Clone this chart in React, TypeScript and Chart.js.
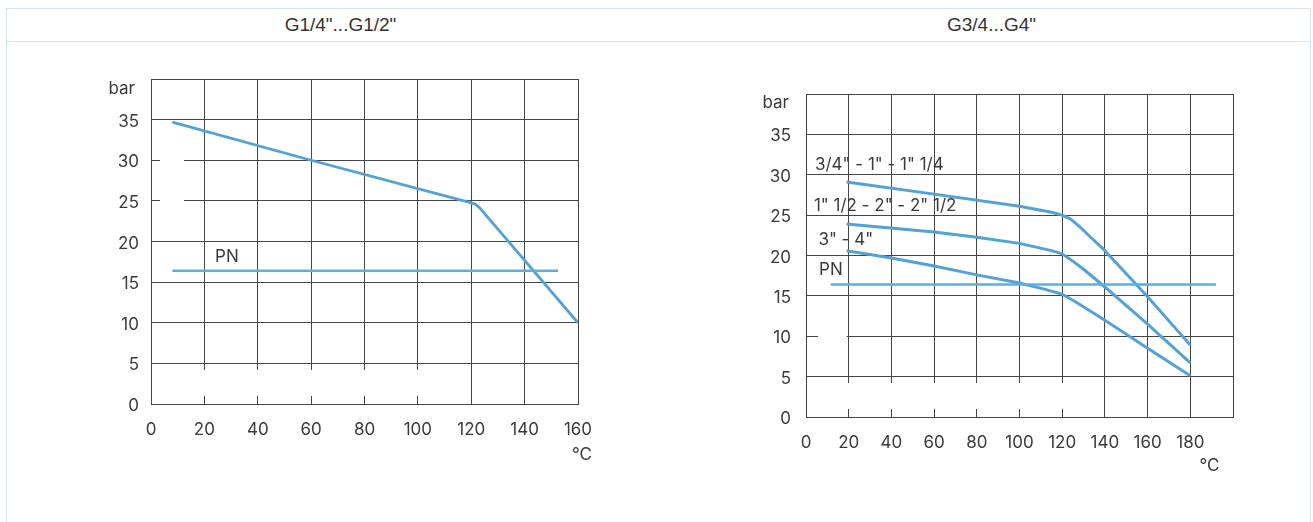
import React, { useEffect, useRef } from 'react';
import { Chart, registerables } from 'chart.js';

Chart.register(...registerables);

// ---------- data ----------
const leftTitle = 'G1/4"...G1/2"';
const rightTitle = 'G3/4...G4"';

const leftXTickLabels = ['0', '20', '40', '60', '80', '100', '120', '140', '160'];
const leftYTickLabels = ['0', '5', '10', '15', '20', '25', '30', '35', ''];
const rightXTickLabels = ['0', '20', '40', '60', '80', '100', '120', '140', '160', '180', ''];
const rightYTickLabels = ['0', '5', '10', '15', '20', '25', '30', '35', ''];

const yUnit = 'bar';
const xUnit = '°C';

// left chart (G1/4"...G1/2")
const leftCurveX = [8, 60, 119, 121.5, 123, 160];
const leftCurveY = [34.7, 30, 24.85, 24.6, 24.2, 10];
const leftPnX = [8, 152.5];
const leftPnY = [16.4, 16.4];
const leftLabelText = ['PN'];
const leftLabelX = [24];
const leftLabelY = [18.1];

// right chart (G3/4...G4")
const rightS1X = [19, 60, 100, 115, 120, 124, 128, 132, 140, 160, 180];
const rightS1Y = [29.1, 27.6, 26.1, 25.35, 25.0, 24.5, 23.6, 22.6, 20.6, 14.9, 8.9];
const rightS2X = [19, 60, 80, 100, 115, 120, 125, 130, 140, 160, 180];
const rightS2Y = [23.9, 22.9, 22.25, 21.5, 20.6, 20.2, 19.3, 18.3, 16.1, 11.5, 6.7];
const rightS3X = [19, 40, 60, 80, 100, 112, 120, 126, 140, 160, 180];
const rightS3Y = [20.6, 19.7, 18.7, 17.6, 16.6, 15.8, 15.2, 14.3, 11.97, 8.5, 5.1];
const rightPnX = [11.6, 192];
const rightPnY = [16.4, 16.4];
const rightLabelText = ['3/4" - 1" - 1" 1/4', '1" 1/2 - 2" - 2" 1/2', '3" - 4"', 'PN'];
const rightLabelX = [4.2, 3.7, 5.8, 6.1];
const rightLabelY = [31.2, 26.2, 21.9, 18.2];

// small erased pieces of the printed grid (value space)
const leftHGapY = [30, 25];
const leftHGapFrom = 3.4;
const leftHGapTo = 12.4;
const leftVGapX = [20, 40, 60, 80, 100];
const rightHGapY = [10];
const rightHGapFrom = 5.6;
const rightHGapTo = 19;
const rightVGapX = [20, 40, 60, 80, 100, 120];
const vGapFrom = 1.0;
const vGapTo = 4.2;

// ---------- styles ----------
const CURVE = '#52a2d8';
const PN_COLOR = '#5cade0';
const GRID = '#444444';
const TEXT = '#3a3a3a';
const FONT = 'Inter, "Liberation Sans", Arial, sans-serif';
const BORDER = '#d7e2ec';

const toPts = (xs: number[], ys: number[]) => xs.map((x, i) => ({ x, y: ys[i] }));

const textPlugin = {
  id: 'chartTexts',
  beforeDatasetsDraw(chart: any, _a: any, opts: any) {
    const { ctx, scales } = chart;
    const xs = scales.x;
    const ys = scales.y;
    ctx.save();
    ctx.fillStyle = '#ffffff';
    (opts.hGaps || []).forEach((g: any) => {
      const y = ys.getPixelForValue(g.y);
      const x0 = xs.getPixelForValue(g.from);
      const x1 = xs.getPixelForValue(g.to);
      ctx.fillRect(x0, y - 1.5, x1 - x0, 3);
    });
    (opts.vGaps || []).forEach((g: any) => {
      const x = xs.getPixelForValue(g.x);
      const y0 = ys.getPixelForValue(g.to);
      const y1 = ys.getPixelForValue(g.from);
      ctx.fillRect(x - 1.5, y0, 3, y1 - y0);
    });
    ctx.restore();
  },
  afterDatasetsDraw(chart: any, _a: any, opts: any) {
    const { ctx, scales, chartArea } = chart;
    const xs = scales.x;
    const ys = scales.y;
    ctx.save();
    ctx.fillStyle = TEXT;
    ctx.font = `17px ${FONT}`;
    ctx.textBaseline = 'middle';
    ctx.textAlign = 'left';
    (opts.labels || []).forEach((l: any) => {
      ctx.fillText(l.text, xs.getPixelForValue(l.x), ys.getPixelForValue(l.y));
    });
    ctx.textAlign = 'right';
    ctx.fillText(yUnit, chartArea.left - opts.yUnitGap, chartArea.top + opts.yUnitDrop);
    ctx.textAlign = 'center';
    ctx.fillText(xUnit, xs.getPixelForValue(opts.xUnitAt), chartArea.bottom + opts.xUnitDrop);
    ctx.restore();
  },
};

function makeConfig(p: any) {
  return {
    type: 'line',
    data: {
      datasets: p.datasets.map((d: any) => ({
        data: d.data,
        borderColor: d.color,
        borderWidth: d.width,
        pointRadius: 0,
        fill: false,
        tension: 0,
        borderCapStyle: 'butt',
        borderJoinStyle: 'round',
      })),
    },
    options: {
      animation: false,
      responsive: false,
      devicePixelRatio: 1,
      events: [],
      layout: { padding: p.padding },
      plugins: {
        legend: { display: false },
        tooltip: { enabled: false },
        chartTexts: p.texts,
      },
      scales: {
        x: {
          type: 'linear',
          min: 0,
          max: p.xMax,
          afterFit: (s: any) => { s.height = 60; },
          grid: { color: GRID, lineWidth: 1, drawTicks: false },
          border: { display: true, color: GRID, width: 1 },
          ticks: {
            stepSize: 20,
            padding: p.xPad,
            color: TEXT,
            font: { family: FONT, size: 17 },
            maxRotation: 0,
            autoSkip: false,
            callback: (_v: any, i: number) => p.xLabels[i],
          },
        },
        y: {
          type: 'linear',
          min: 0,
          max: 40,
          afterFit: (s: any) => { s.width = p.yWidth; },
          grid: { color: GRID, lineWidth: 1, drawTicks: false },
          border: { display: true, color: GRID, width: 1 },
          ticks: {
            stepSize: 5,
            padding: p.yPad,
            labelOffset: 2,
            color: TEXT,
            font: { family: FONT, size: 17 },
            autoSkip: false,
            callback: (_v: any, i: number) => p.yLabels[i],
          },
        },
      },
    },
    plugins: [textPlugin],
  };
}

function ChartCanvas({ config, width, height, left }: any) {
  const ref = useRef<HTMLCanvasElement | null>(null);
  useEffect(() => {
    if (!ref.current) return;
    const chart = new Chart(ref.current, config as any);
    return () => chart.destroy();
  }, []);
  return (
    <canvas
      ref={ref}
      width={width}
      height={height}
      style={{ position: 'absolute', left, top: 0, width, height }}
    />
  );
}

const leftConfig = makeConfig({
  xMax: 160,
  xLabels: leftXTickLabels,
  yLabels: leftYTickLabels,
  yWidth: 151,
  yPad: 12,
  xPad: 15.5,
  padding: { left: 0, top: 79, right: 97, bottom: 58 },
  datasets: [
    { data: toPts(leftPnX, leftPnY), color: PN_COLOR, width: 2.5 },
    { data: toPts(leftCurveX, leftCurveY), color: CURVE, width: 2.8 },
  ],
  texts: {
    labels: leftLabelText.map((t, i) => ({ text: t, x: leftLabelX[i], y: leftLabelY[i] })),
    hGaps: leftHGapY.map((y) => ({ y, from: leftHGapFrom, to: leftHGapTo })),
    vGaps: leftVGapX.map((x) => ({ x, from: vGapFrom, to: vGapTo })),
    yUnitGap: 16,
    yUnitDrop: 9.5,
    xUnitAt: 161.5,
    xUnitDrop: 50.5,
  },
});

const rightConfig = makeConfig({
  xMax: 200,
  xLabels: rightXTickLabels,
  yLabels: rightYTickLabels,
  yWidth: 131,
  yPad: 15,
  xPad: 16,
  padding: { left: 0, top: 94, right: 80, bottom: 45 },
  datasets: [
    { data: toPts(rightPnX, rightPnY), color: PN_COLOR, width: 2.5 },
    { data: toPts(rightS1X, rightS1Y), color: CURVE, width: 3 },
    { data: toPts(rightS2X, rightS2Y), color: CURVE, width: 3 },
    { data: toPts(rightS3X, rightS3Y), color: CURVE, width: 3 },
  ],
  texts: {
    labels: rightLabelText.map((t, i) => ({ text: t, x: rightLabelX[i], y: rightLabelY[i] })),
    hGaps: rightHGapY.map((y) => ({ y, from: rightHGapFrom, to: rightHGapTo })),
    vGaps: rightVGapX.map((x) => ({ x, from: vGapFrom, to: vGapTo })),
    yUnitGap: 17,
    yUnitDrop: 8.7,
    xUnitAt: 189,
    xUnitDrop: 49,
  },
});

export default function App() {
  const header: React.CSSProperties = {
    position: 'absolute',
    top: 9,
    height: 32,
    display: 'flex',
    alignItems: 'center',
    justifyContent: 'center',
    fontFamily: '"Liberation Sans", Arial, sans-serif',
    fontSize: 19,
    color: '#333333',
  };
  return (
    <div
      style={{
        position: 'fixed',
        left: 0,
        top: 0,
        width: 1313,
        height: 522,
        overflow: 'hidden',
        background: '#ffffff',
      }}
    >
      <div
        style={{
          position: 'absolute',
          left: 6,
          top: 8,
          width: 1305,
          height: 600,
          border: `1px solid ${BORDER}`,
          boxSizing: 'border-box',
        }}
      />
      <div style={{ position: 'absolute', left: 6, top: 41, width: 1305, height: 1, background: BORDER }} />
      <div style={{ ...header, left: 6, width: 669 }}>{leftTitle}</div>
      <div style={{ ...header, left: 675, width: 633 }}>{rightTitle}</div>
      <ChartCanvas config={leftConfig} width={675} height={522} left={0} />
      <ChartCanvas config={rightConfig} width={638} height={522} left={675} />
    </div>
  );
}
